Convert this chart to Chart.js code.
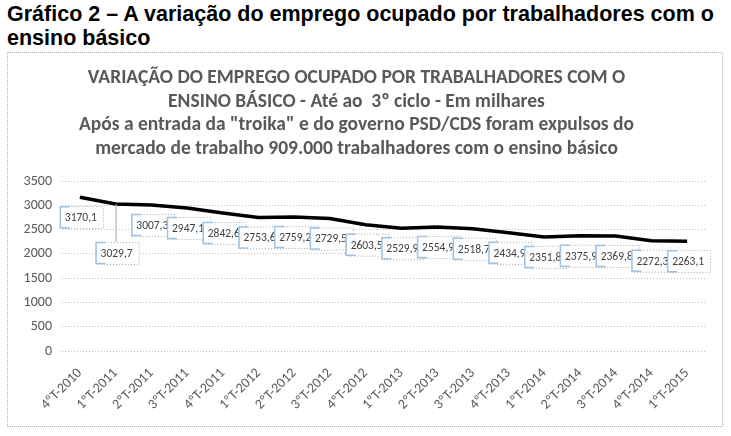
<!DOCTYPE html>
<html>
<head>
<meta charset="utf-8">
<script src="https://cdn.jsdelivr.net/npm/chart.js@4"></script>
<style>
    body { margin: 0; background: #fff; width: 731px; height: 436px; position: relative; overflow: hidden; }
    #heading {
        position: absolute; left: 7px; top: 2px; width: 724px;
        font-family: "Liberation Sans", Arial, sans-serif; font-weight: bold;
        font-size: 21.5px; line-height: 24px; color: #000;
    }
    #box {
        position: absolute; left: 7px; top: 52px; width: 714px; height: 373px;
        border: 1px dotted #b0b0b0;
    }
</style>
</head>
<body>
<div id="heading">Gráfico 2 – A variação do emprego ocupado por trabalhadores com o<br>ensino básico</div>
<div id="box"><canvas id="chart"></canvas></div>
<script>
// Data
const quarters = ['4ºT-2010', '1ºT-2011', '2ºT-2011', '3ºT-2011', '4ºT-2011', '1ºT-2012', '2ºT-2012',
    '3ºT-2012', '4ºT-2012', '1ºT-2013', '2ºT-2013', '3ºT-2013', '4ºT-2013', '1ºT-2014', '2ºT-2014',
    '3ºT-2014', '4ºT-2014', '1ºT-2015'];
const employed = [3170.1, 3029.7, 3007.3, 2947.1, 2842.6, 2753.6, 2759.2, 2729.5, 2603.5, 2529.9,
    2554.9, 2518.7, 2434.9, 2351.8, 2375.9, 2369.8, 2272.3, 2263.1];
const yTicks = [0, 500, 1000, 1500, 2000, 2500, 3000, 3500];

const titleLines = [
    'VARIAÇÃO DO EMPREGO OCUPADO POR TRABALHADORES COM O',
    'ENSINO BÁSICO - Até ao  3º ciclo - Em milhares',
    'Após a entrada da "troika" e do governo PSD/CDS foram expulsos do',
    'mercado de trabalho 909.000 trabalhadores com o ensino básico'
];

const FONT = "Carlito, Lato, 'Open Sans', sans-serif";

// data labels drawn like the Excel callouts
const valueLabels = {
    id: 'valueLabels',
    afterDatasetsDraw(chart) {
        const ctx = chart.ctx;
        const meta = chart.getDatasetMeta(0);
        ctx.save();
        ctx.font = '11.5px ' + FONT;
        ctx.textBaseline = 'middle';
        meta.data.forEach((pt, i) => {
            const text = employed[i].toFixed(1).replace('.', ',');
            const extra = i === 1 ? 29 : 0;
            const bx = pt.x - 20, by = pt.y + 9 + extra, bw = 43, bh = 22;
            if (extra) {
                ctx.strokeStyle = '#a6a6a6';
                ctx.lineWidth = 1;
                ctx.beginPath();
                ctx.moveTo(pt.x + 0.5, pt.y);
                ctx.lineTo(pt.x + 0.5, by);
                ctx.stroke();
            }
            ctx.fillStyle = '#fff';
            ctx.fillRect(bx, by, bw, bh);
            ctx.setLineDash([1, 2]);
            ctx.strokeStyle = '#a6a6a6';
            ctx.lineWidth = 1;
            ctx.strokeRect(bx + 0.5, by + 0.5, bw, bh);
            ctx.setLineDash([]);
            ctx.strokeStyle = '#9dc3e6';
            ctx.lineWidth = 1.5;
            ctx.beginPath();
            ctx.moveTo(bx + 10, by + 0.5);
            ctx.lineTo(bx + 0.5, by + 0.5);
            ctx.lineTo(bx + 0.5, by + bh - 0.5);
            ctx.lineTo(bx + 10, by + bh - 0.5);
            ctx.stroke();
            ctx.fillStyle = '#404040';
            ctx.textAlign = 'left';
            ctx.fillText(text, bx + 5, by + bh / 2 + 1);
        });
        ctx.restore();
    }
};

new Chart(document.getElementById('chart'), {
    type: 'line',
    data: {
        labels: quarters,
        datasets: [{
            data: employed,
            borderColor: '#000',
            borderWidth: 3.5,
            pointRadius: 0,
            tension: 0,
            fill: false
        }]
    },
    options: {
        responsive: true,
        maintainAspectRatio: false,
        animation: false,
        layout: { padding: { top: 0, right: 17, bottom: 0, left: 0 } },
        plugins: {
            legend: { display: false },
            tooltip: { enabled: false },
            title: {
                display: true,
                text: titleLines,
                color: '#595959',
                font: { family: FONT, size: 19.5, weight: 'bold', lineHeight: 1.22 },
                padding: { top: 13, bottom: 20 }
            }
        },
        scales: {
            x: {
                offset: true,
                grid: { display: false },
                border: { display: false },
                ticks: {
                    color: '#595959',
                    font: { family: FONT, size: 14 },
                    maxRotation: 45,
                    minRotation: 45,
                    autoSkip: false,
                    padding: 6
                },
                afterFit(scale) { scale.height = 75; }
            },
            y: {
                min: 0,
                max: 3500,
                afterBuildTicks(scale) { scale.ticks = yTicks.map(v => ({ value: v })); },
                grid: { color: '#c0c0c0', borderDash: [1, 2], drawTicks: false },
                border: { display: false, dash: [1, 2] },
                ticks: {
                    color: '#595959',
                    font: { family: FONT, size: 14 },
                    padding: 10,
                    callback: v => String(v)
                },
                afterFit(scale) { scale.width = 54; }
            }
        }
    },
    plugins: [valueLabels]
});
</script>
</body>
</html>
